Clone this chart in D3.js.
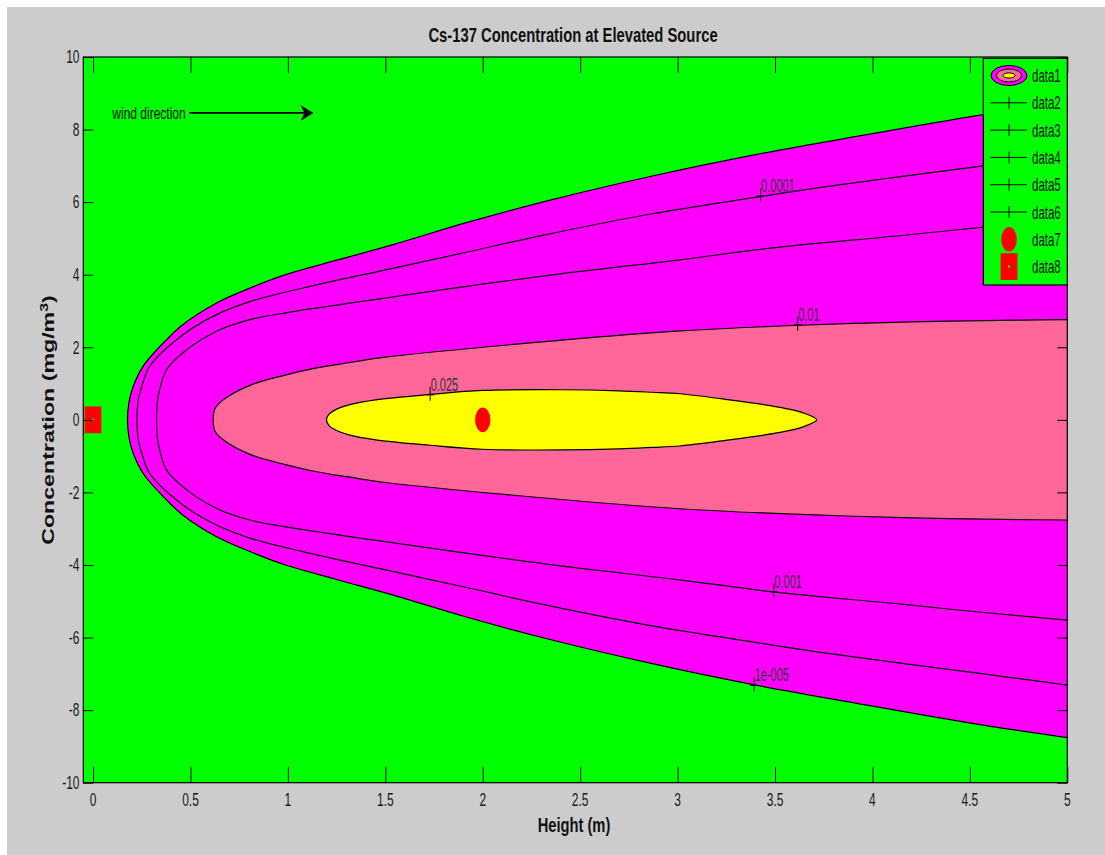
<!DOCTYPE html>
<html><head><meta charset="utf-8">
<script src="https://cdn.jsdelivr.net/npm/d3@7"></script>
<style>body{margin:0;background:#fff}svg{display:block}</style>
</head><body><svg id="chart" width="1105" height="855"></svg>
<script>
// ---------- data ----------
const xTicks = [0, 0.5, 1, 1.5, 2, 2.5, 3, 3.5, 4, 4.5, 5];
const xTickLabels = ["0", "0.5", "1", "1.5", "2", "2.5", "3", "3.5", "4", "4.5", "5"];
const yTicks = [-10, -8, -6, -4, -2, 0, 2, 4, 6, 8, 10];
const yTickLabels = ["-10", "-8", "-6", "-4", "-2", "0", "2", "4", "6", "8", "10"];

// contour half-widths [height x, |y|] (symmetric about y=0)
const contour1e5 = [[0.177,0],[0.185,0.5],[0.206,0.92],[0.26,1.5],[0.385,2.25],[0.46,2.62],[0.634,3.22],[0.805,3.63],[0.976,3.98],[1.25,4.40],[1.54,4.83],[1.906,5.42],[2.32,6.02],[2.87,6.72],[3.40,7.31],[3.97,7.86],[4.52,8.37],[5.0,8.76]];
const contour1e4 = [[0.226,0],[0.232,0.55],[0.255,1.0],[0.29,1.47],[0.46,2.34],[0.634,2.90],[0.805,3.26],[1.147,3.72],[1.49,4.12],[1.9,4.6],[2.32,5.1],[2.87,5.68],[3.42,6.15],[3.79,6.45],[4.57,7.0],[5.0,7.31]];
const contour1e3 = [[0.326,0],[0.33,0.5],[0.345,0.9],[0.377,1.38],[0.46,1.84],[0.634,2.44],[0.805,2.76],[0.99,2.95],[1.49,3.35],[2.32,3.97],[3.01,4.41],[3.49,4.74],[4.15,5.08],[4.57,5.31],[5.0,5.52]];
const contour1e2 = [[0.617,0],[0.625,0.3],[0.668,0.55],[0.805,0.95],[0.976,1.22],[1.147,1.43],[1.318,1.58],[1.49,1.72],[2.244,2.12],[3.01,2.45],[3.6,2.6],[4.2,2.7],[4.78,2.75],[5.0,2.76]];
const contour25e3 = [[1.198,0],[1.21,0.15],[1.265,0.33],[1.318,0.42],[1.45,0.55],[1.73,0.70],[2.0,0.81],[2.4,0.83],[2.7,0.80],[2.87,0.76],[3.01,0.72],[3.24,0.57],[3.51,0.36],[3.64,0.2],[3.714,0]];

const contourLabelText = ["0.0001", "0.01", "0.025", "0.001", "1e-005"];
const contourLabelX = [3.426, 3.616, 1.73, 3.494, 3.393];
const contourLabelY = [6.17, 2.62, 0.69, -4.74, -7.32];

const sourcePoint = [2, 0];   // data7
const originPoint = [0, 0];   // data8
const legendNames = ["data1", "data2", "data3", "data4", "data5", "data6", "data7", "data8"];

const windText = "wind direction";
const windArrowX = [0.494, 1.131];
const windArrowY = 8.46;

const titleText = "Cs-137 Concentration at Elevated Source";
const xLabelText = "Height (m)";

// ---------- drawing ----------
const svg = d3.select('#chart');
const FONT = '"Liberation Sans", Arial, Helvetica, sans-serif';
const C_GREEN = '#00ff00', C_MAG = '#ff00ff', C_PINK = '#ff6699', C_YEL = '#ffff00', C_RED = '#ff0000';

svg.append('rect').attr('x', 7).attr('y', 7).attr('width', 1098).attr('height', 848).attr('fill', '#cccccc');

const L = 83.3, R = 1067.3, T = 57, B = 782.7;
const x = d3.scaleLinear().domain([-0.05, 5]).range([L, R]);
const y = d3.scaleLinear().domain([-10, 10]).range([B, T]);

function sText(parent, px, py, str, o) {
  const g = parent.append('g').attr('transform', `translate(${px},${py}) scale(${o.sx || 1},${o.sy || 1})`);
  return g.append('text').attr('x', 0).attr('y', 0)
    .attr('font-family', FONT).attr('font-size', o.size)
    .attr('font-weight', o.weight || 'normal')
    .attr('text-anchor', o.anchor || 'start')
    .attr('fill', o.fill || '#111').text(str);
}

svg.append('clipPath').attr('id', 'clip').append('rect')
  .attr('x', L).attr('y', T).attr('width', R - L).attr('height', B - T);
const plot = svg.append('g').attr('clip-path', 'url(#clip)');
plot.append('rect').attr('x', L).attr('y', T).attr('width', R - L).attr('height', B - T).attr('fill', C_GREEN);

const line = d3.line().x(d => x(d[0])).y(d => y(d[1])).curve(d3.curveCatmullRom.alpha(0.5));
const lineClosed = d3.line().x(d => x(d[0])).y(d => y(d[1])).curve(d3.curveCatmullRomClosed.alpha(0.5));

function openPts(hw) {
  const upper = hw.slice().reverse().map(d => [d[0], d[1]]);
  const lower = hw.slice(1).map(d => [d[0], -d[1]]);
  return upper.concat(lower);
}
function closedPts(hw) {
  const upper = hw.map(d => [d[0], d[1]]);
  const lower = hw.slice(1, -1).reverse().map(d => [d[0], -d[1]]);
  return upper.concat(lower);
}

// fills
plot.append('path').attr('d', line(openPts(contour1e5)) + 'Z').attr('fill', C_MAG);
plot.append('path').attr('d', line(openPts(contour1e2)) + 'Z').attr('fill', C_PINK);
plot.append('path').attr('d', lineClosed(closedPts(contour25e3))).attr('fill', C_YEL);

// contour lines
[contour1e5, contour1e4, contour1e3, contour1e2].forEach(hw => {
  plot.append('path').attr('d', line(openPts(hw))).attr('fill', 'none').attr('stroke', '#000').attr('stroke-width', 1.2);
});
plot.append('path').attr('d', lineClosed(closedPts(contour25e3))).attr('fill', 'none').attr('stroke', '#000').attr('stroke-width', 1.2);

// contour labels
contourLabelText.forEach((s, i) => {
  const px = x(contourLabelX[i]), py = y(contourLabelY[i]);
  plot.append('line').attr('x1', px).attr('x2', px).attr('y1', py - 8).attr('y2', py + 6).attr('stroke', '#000').attr('stroke-width', 1);
  plot.append('line').attr('x1', px - 4).attr('x2', px + 4).attr('y1', py).attr('y2', py).attr('stroke', '#000').attr('stroke-width', 1);
  sText(plot, px + 0.5, py - 4, s, { size: 11, sy: 1.65, fill: '#333' });
});

// markers
plot.append('ellipse').attr('cx', x(sourcePoint[0])).attr('cy', y(sourcePoint[1])).attr('rx', 7.7).attr('ry', 12.3).attr('fill', C_RED);
plot.append('rect').attr('x', x(originPoint[0]) - 8.4).attr('y', y(originPoint[1]) - 13.4).attr('width', 16.8).attr('height', 26.8).attr('fill', C_RED);
plot.append('rect').attr('x', x(originPoint[0]) - 1).attr('y', y(originPoint[1]) - 1).attr('width', 2).attr('height', 2).attr('fill', C_GREEN);

// wind annotation
sText(svg, 112.3, 119, windText, { size: 12, sy: 1.45, fill: '#111' });
const ay = y(windArrowY), ax0 = x(windArrowX[0]), ax1 = x(windArrowX[1]);
svg.append('line').attr('x1', ax0).attr('x2', ax1 - 6).attr('y1', ay).attr('y2', ay).attr('stroke', '#000').attr('stroke-width', 1.6);
svg.append('path').attr('d', `M${ax1},${ay} L${ax1 - 13},${ay - 8} L${ax1 - 9},${ay} L${ax1 - 13},${ay + 8} Z`).attr('fill', '#000');

// axes (ticks)
const axG = svg.append('g');
function styleAxis(g) {
  g.selectAll('.domain').remove();
  g.selectAll('.tick line').attr('stroke', '#000').attr('stroke-width', 1);
  g.selectAll('.tick text').remove();
}
axG.append('g').attr('transform', `translate(0,${B})`).call(d3.axisBottom(x).tickValues(xTicks).tickSize(-16).tickFormat('')).call(styleAxis);
axG.append('g').attr('transform', `translate(0,${T})`).call(d3.axisTop(x).tickValues(xTicks).tickSize(-16).tickFormat('')).call(styleAxis);
axG.append('g').attr('transform', `translate(${L},0)`).call(d3.axisLeft(y).tickValues(yTicks).tickSize(-10).tickFormat('')).call(styleAxis);
axG.append('g').attr('transform', `translate(${R},0)`).call(d3.axisRight(y).tickValues(yTicks).tickSize(-10).tickFormat('')).call(styleAxis);
axG.append('rect').attr('x', L).attr('y', T).attr('width', R - L).attr('height', B - T).attr('fill', 'none').attr('stroke', '#000').attr('stroke-width', 1.2);

// tick labels
xTicks.forEach((v, i) => sText(svg, x(v), 806, xTickLabels[i], { size: 12, sy: 1.5, anchor: 'middle', fill: '#1a1a1a' }));
yTicks.forEach((v, i) => sText(svg, 79.5, y(v) + 6.3, yTickLabels[i], { size: 12, sy: 1.5, anchor: 'end', fill: '#1a1a1a' }));

// title and axis labels
sText(svg, 573, 41.7, titleText, { size: 14.8, sy: 1.42, weight: 'bold', anchor: 'middle' });
sText(svg, 574, 832, xLabelText, { size: 14.7, sy: 1.42, weight: 'bold', anchor: 'middle' });
const yl = svg.append('g').attr('transform', `translate(54,420) rotate(-90) scale(1.45,1)`)
  .append('text').attr('font-family', FONT).attr('font-size', 16).attr('font-weight', 'bold')
  .attr('text-anchor', 'middle').attr('fill', '#111');
yl.append('tspan').text('Concentration (mg/m');
yl.append('tspan').attr('dy', -6).attr('font-size', 11).text('3');
yl.append('tspan').attr('dy', 6).text(')');

// legend
const lg = svg.append('g');
const lgX = 983.3, lgY = 58.3, lgW = 84, lgH = 226.7;
lg.append('rect').attr('x', lgX).attr('y', lgY).attr('width', lgW).attr('height', lgH).attr('fill', C_GREEN).attr('stroke', '#000').attr('stroke-width', 1.2);
const iconX = 1009;
legendNames.forEach((name, i) => {
  const ry = lgY + 17.2 + i * 27.3;
  if (i === 0) {
    lg.append('ellipse').attr('cx', iconX).attr('cy', ry).attr('rx', 18).attr('ry', 10).attr('fill', C_MAG).attr('stroke', '#000').attr('stroke-width', 1);
    lg.append('ellipse').attr('cx', iconX).attr('cy', ry).attr('rx', 12.5).attr('ry', 6.5).attr('fill', C_PINK).attr('stroke', '#000').attr('stroke-width', 1);
    lg.append('ellipse').attr('cx', iconX).attr('cy', ry).attr('rx', 6).attr('ry', 2.6).attr('fill', C_YEL).attr('stroke', '#000').attr('stroke-width', 1);
  } else if (i <= 5) {
    lg.append('line').attr('x1', 990).attr('x2', 1027).attr('y1', ry).attr('y2', ry).attr('stroke', '#000').attr('stroke-width', 1);
    lg.append('line').attr('x1', iconX).attr('x2', iconX).attr('y1', ry - 6).attr('y2', ry + 6).attr('stroke', '#000').attr('stroke-width', 1);
  } else if (i === 6) {
    lg.append('ellipse').attr('cx', iconX).attr('cy', ry).attr('rx', 7.8).attr('ry', 12.2).attr('fill', C_RED);
  } else {
    lg.append('rect').attr('x', iconX - 8.4).attr('y', ry - 13.4).attr('width', 16.8).attr('height', 26.8).attr('fill', C_RED);
    lg.append('rect').attr('x', iconX - 1).attr('y', ry - 1).attr('width', 2).attr('height', 2).attr('fill', C_GREEN);
  }
  sText(lg, 1032, ry + 6.5, name, { size: 11.5, sy: 1.55, fill: '#111' });
});
</script>
</body></html>
